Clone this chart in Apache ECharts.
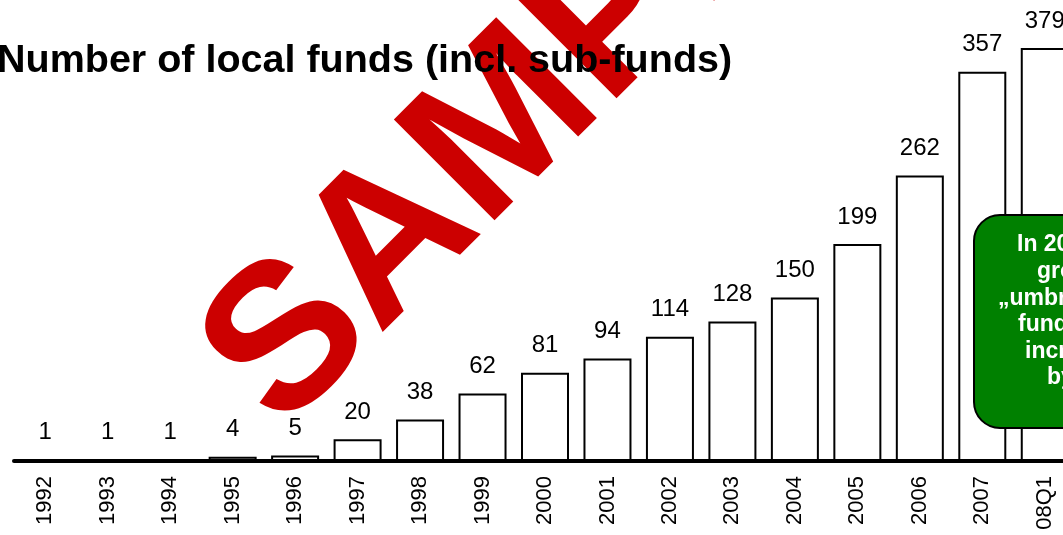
<!DOCTYPE html>
<html>
<head>
<meta charset="utf-8">
<title>Number of local funds</title>
<script src="https://cdn.jsdelivr.net/npm/echarts@6/dist/echarts.min.js"></script>
<style>
  html, body { margin: 0; padding: 0; background: #fff; }
  #main { width: 1063px; height: 535px; }
</style>
</head>
<body>
<div id="main"></div>
<script>
// data
var years = ['1992', '1993', '1994', '1995', '1996', '1997', '1998', '1999', '2000',
             '2001', '2002', '2003', '2004', '2005', '2006', '2007', '08Q1'];
var funds = [1, 1, 1, 4, 5, 20, 38, 62, 81, 94, 114, 128, 150, 199, 262, 357, 379];

var titleText = 'Number of local funds (incl. sub-funds)';
// note box, cut off at the right edge in the original
var noteLines = ['In 2007 the', 'growth', '\u201Eumbrella-', 'funds\u201C', 'increased', 'by'];
var noteStarts = [1017, 1037, 998, 1018, 1025, 1047];

var font = '"Liberation Sans", Arial, sans-serif';

var myChart = echarts.init(document.getElementById('main'));

var graphics = [];
// watermark
graphics.push({
    type: 'text',
    z: 1,
    x: 546, y: 88,
    rotation: Math.PI / 4,
    style: {
        text: 'SAMPLE',
        fill: '#cc0000',
        fontFamily: font,
        fontWeight: 'bold',
        fontSize: 207,
        align: 'center',
        verticalAlign: 'middle'
    }
});
// title
graphics.push({
    type: 'text',
    z: 20,
    x: -3, y: 61,
    style: {
        text: titleText,
        fill: '#000',
        fontFamily: font,
        fontWeight: 'bold',
        fontSize: 39.5,
        align: 'left',
        verticalAlign: 'middle'
    }
});
// green box
graphics.push({
    type: 'rect',
    z: 30,
    shape: { x: 974, y: 215, width: 220, height: 213, r: 26 },
    style: { fill: '#008000', stroke: '#000', lineWidth: 2 }
});
noteLines.forEach(function (t, i) {
    graphics.push({
        type: 'text',
        z: 31,
        x: noteStarts[i], y: 245 + i * 26.6,
        style: {
            text: t,
            fill: '#fff',
            fontFamily: font,
            fontWeight: 'bold',
            fontSize: 23,
            align: 'left',
            verticalAlign: 'middle'
        }
    });
});

var option = {
    animation: false,
    backgroundColor: '#fff',
    grid: { left: 14, top: 25, width: 1062, height: 436, outerBoundsMode: 'none', containLabel: false },
    xAxis: {
        type: 'category',
        data: years,
        axisLine: { lineStyle: { color: '#000', width: 4 } },
        axisTick: { show: false },
        axisLabel: {
            rotate: 90,
            margin: 15,
            color: '#000',
            fontFamily: font,
            fontSize: 22
        }
    },
    yAxis: {
        type: 'value',
        min: 0,
        max: 400,
        show: false,
        splitLine: { show: false }
    },
    series: [{
        type: 'bar',
        data: funds,
        barWidth: 48,
        itemStyle: { color: '#fff', borderColor: '#000', borderWidth: 2 },
        label: {
            show: true,
            position: 'top',
            distance: 15,
            color: '#000',
            fontFamily: font,
            fontSize: 24
        }
    }],
    graphic: graphics
};

myChart.setOption(option);
</script>
</body>
</html>
